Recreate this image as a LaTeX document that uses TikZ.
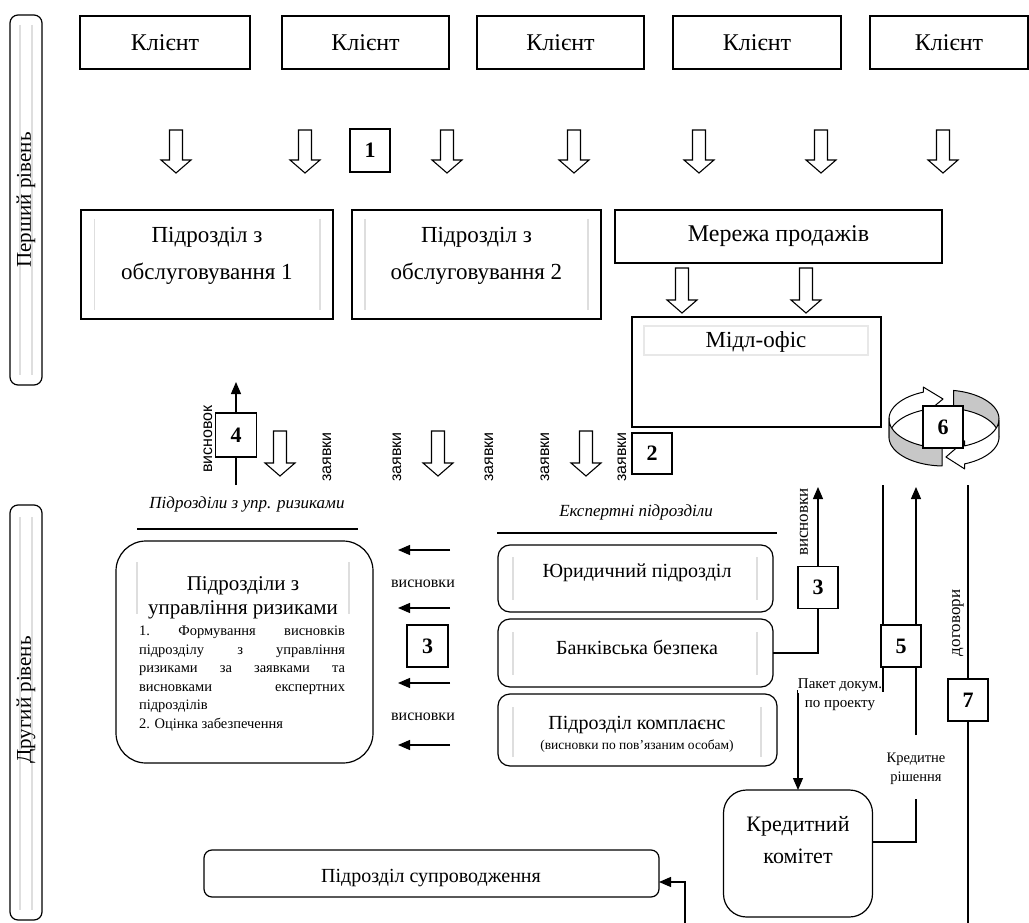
\documentclass[tikz,border=0pt]{standalone}
\usepackage{fontspec}
\setmainfont{Liberation Serif}
\newfontfamily\sansf{Liberation Sans}
\usetikzlibrary{arrows.meta}
\newcommand\fsz[2]{\fontsize{#1}{#2}\selectfont}
\tikzset{
 bx/.style={draw, line width=1.2pt, fill=white},
 rbx/.style={draw, line width=1.2pt, fill=white, rounded corners=#1},
 num/.style={draw, line width=1.2pt, fill=white, minimum width=40pt, minimum height=42pt, font=\bfseries\fsz{22}{26}},
 inl/.style={draw=black!13, line width=1.6pt},
 conn/.style={line width=1.2pt},
 arr/.style={line width=1.2pt, -{Triangle[length=12pt,width=10pt]}},
 pics/harrow/.style={code={\draw[line width=1.1pt, fill=white, line join=miter] (-6.5,0) -- (-6.5,#1-13) -- (-15,#1-13) -- (0,#1) -- (15,#1-13) -- (6.5,#1-13) -- (6.5,0) -- cycle;}},
 rl/.style={rotate=90, font=\sansf\fsz{16}{19}},
 rls/.style={rotate=90, font=\fsz{17}{20}},
 ring/.style={line width=1pt, line join=round},
}
\begin{document}
\begin{tikzpicture}[x=1pt,y=-1pt, every node/.style={inner sep=0pt, outer sep=0pt}]
\useasboundingbox (0,0) rectangle (1029,923);

% level bars
\node[rbx=8pt, minimum width=32pt, minimum height=370pt] (bar1) at (26,200) {};
\draw[inl] (20,25) -- (20,375); \draw[inl] (32,25) -- (32,375);
\node[rotate=90, font=\fsz{21}{25}] (bar1t) at (26,200) {Перший рівень};
\node[rbx=8pt, minimum width=32pt, minimum height=415pt] (bar2) at (26,712.5) {};
\draw[inl] (20,517) -- (20,910); \draw[inl] (32,517) -- (32,910);
\node[rotate=90, font=\fsz{21}{25}] (bar2t) at (26,700) {Другий рівень};

% clients
\tikzset{cl/.style={bx, minimum height=53pt, font=\fsz{24}{28}}}
\node[cl, minimum width=170pt] (cl1) at (165,42.5) {Клієнт};
\node[cl, minimum width=167pt] (cl2) at (365.5,42.5) {Клієнт};
\node[cl, minimum width=167pt] (cl3) at (560.5,42.5) {Клієнт};
\node[cl, minimum width=168pt] (cl4) at (757,42.5) {Клієнт};
\node[cl, minimum width=158pt] (cl5) at (949,42.5) {Клієнт};

% hollow arrows, first row
\foreach \xx in {176,305,447,574,699,821,943} \pic at (\xx,130) {harrow=43};
\node[num, minimum height=43pt] (n1) at (370,150.5) {1};

% service units
\node[bx, minimum width=252pt, minimum height=109pt] (pz1) at (207,264.5) {};
\draw[inl] (94.5,219) -- (94.5,310); \draw[inl] (320,219) -- (320,310);
\node[anchor=base] (pz1t) at (207,243) {\parbox[t]{240pt}{\centering\fsz{23}{37}Підрозділ з\\обслуговування 1}};
\node[bx, minimum width=249pt, minimum height=109pt] (pz2) at (476.5,264.5) {};
\draw[inl] (365,219) -- (365,310); \draw[inl] (588,219) -- (588,310);
\node[anchor=base] (pz2t) at (476.5,243) {\parbox[t]{240pt}{\centering\fsz{23}{37}Підрозділ з\\обслуговування 2}};

% sales network and middle office
\node[bx, minimum width=327pt, minimum height=53pt, font=\fsz{24}{28}] (mp) at (778.5,236.5) {Мережа продажів};
\pic at (682,268) {harrow=45};
\pic at (806,268) {harrow=45};
\node[bx, minimum width=249pt, minimum height=110pt] (mo) at (756.5,372) {};
\draw[draw=black!9, line width=1.4pt] (644,326) rectangle (868,355);
\node[font=\fsz{23}{27}] (mot) at (756,342) {Мідл-офіс};
\node[num, minimum height=41pt] (n2) at (652,453.5) {2};

% cycle arrow 6
\filldraw[ring, fill=white] plot[variable=\t, domain=182:112, samples=25] ({944+55*cos(\t)},{419-29*sin(\t)})
  -- ({944+55*cos(112)},{419-29*sin(112)-5}) -- ({944+55*cos(91)},{428-29*sin(91)})
  -- ({944+55*cos(112)},{437-29*sin(112)+5})
  -- plot[variable=\t, domain=112:182, samples=25] ({944+55*cos(\t)},{437-29*sin(\t)}) -- cycle;
\filldraw[ring, fill=black!22] plot[variable=\t, domain=80:-3, samples=25] ({944+55*cos(\t)},{419-29*sin(\t)})
  -- plot[variable=\t, domain=-3:80, samples=25] ({944+55*cos(\t)},{437-29*sin(\t)}) -- cycle;
\filldraw[ring, fill=black!22] plot[variable=\t, domain=178:268, samples=25] ({944+55*cos(\t)},{419-29*sin(\t)})
  -- plot[variable=\t, domain=268:178, samples=25] ({944+55*cos(\t)},{437-29*sin(\t)}) -- cycle;
\filldraw[ring, fill=white] plot[variable=\t, domain=358:292, samples=25] ({944+55*cos(\t)},{419-29*sin(\t)})
  -- ({944+55*cos(292)},{419-29*sin(292)-5}) -- ({944+55*cos(272)},{428-29*sin(272)})
  -- ({944+55*cos(292)},{437-29*sin(292)+5})
  -- plot[variable=\t, domain=292:358, samples=25] ({944+55*cos(\t)},{437-29*sin(\t)}) -- cycle;
\node[num] (n6) at (943,427) {6};

% box 4 with conclusion arrow
\coordinate (c4b) at (236,485);
\coordinate (c4t) at (236,382);
\node[num, minimum width=41pt, minimum height=44pt] (n4) at (236,435) {4};
\draw[conn] (c4b) -- (n4.south);
\draw[arr] (n4.north) -- (c4t);
\node[rl] (l4) at (208,439) {висновок};

% middle hollow arrows and labels
\foreach \xx in {280,438,586} \pic at (\xx,431) {harrow=45};
\node[rl] (z1) at (327,457) {заявки};
\node[rl] (z2) at (397,457) {заявки};
\node[rl] (z3) at (489,457) {заявки};
\node[rl] (z4) at (545,457) {заявки};
\node[rl] (z5) at (622,457) {заявки};

% group titles
\node[anchor=base, font=\itshape\fsz{17}{20}] (trisk) at (247,508) {Підрозділи з упр. ризиками};
\draw[line width=2.6pt] (137,529) -- (358,529);
\node[anchor=base, font=\itshape\fsz{17}{20}] (texp) at (636,516) {Експертні підрозділи};
\draw[line width=2.6pt] (497,533) -- (777,533);

% risk management box
\node[rbx=30pt, minimum width=257pt, minimum height=222pt] (risk) at (244.5,652) {};
\draw[inl] (137,562) -- (137,614); \draw[inl] (349,562) -- (349,614);
\node[anchor=base] (riskt) at (243,590) {\parbox[t]{230pt}{\centering\fsz{21}{24}Підрозділи з\\управління ризиками}};
\node[anchor=base west, font=\fsz{14.5}{18.6}] (riskb) at (139,635.5) {\vtop{\baselineskip=18.6pt\lineskiplimit=-20pt\lineskip=0pt
\hbox to 206pt{1.\hfil Формування\hfil висновків}
\hbox to 206pt{підрозділу\hfil з\hfil управління}
\hbox to 206pt{ризиками\hfil за\hfil заявками\hfil та}
\hbox to 206pt{висновками\hfil експертних}
\hbox to 206pt{підрозділів\hfil}
\hbox to 206pt{2. Оцінка забезпечення\hfil}}};

% arrows from experts to risk
\coordinate (a1s) at (450,550); \coordinate (a1e) at (398,550);
\coordinate (a2s) at (450,608); \coordinate (a2e) at (398,608);
\coordinate (a3s) at (450,683); \coordinate (a3e) at (398,683);
\coordinate (a4s) at (450,745); \coordinate (a4e) at (398,745);
\draw[arr] (a1s) -- (a1e);
\draw[arr] (a2s) -- (a2e);
\draw[arr] (a3s) -- (a3e);
\draw[arr] (a4s) -- (a4e);
\node[anchor=base, font=\fsz{16}{19}] (v1) at (423,587) {висновки};
\node[anchor=base, font=\fsz{16}{19}] (v2) at (423,720) {висновки};
\node[num, minimum width=41pt] (n3a) at (427.5,646) {3};

% expert units
\node[rbx=12pt, minimum width=275pt, minimum height=67pt] (jur) at (635.5,578.5) {};
\draw[inl] (513,557) -- (513,600); \draw[inl] (757,557) -- (757,600);
\node[font=\fsz{20}{24}] (jurt) at (637,573) {Юридичний підрозділ};
\node[rbx=12pt, minimum width=275pt, minimum height=68pt] (bank) at (635.5,653) {};
\draw[inl] (513,632) -- (513,675); \draw[inl] (757,632) -- (757,675);
\node[font=\fsz{20}{24}] (bankt) at (637,647) {Банківська безпека};
\node[rbx=12pt, minimum width=279pt, minimum height=72pt] (comp) at (637.5,730) {};
\draw[inl] (513,707) -- (513,757); \draw[inl] (761,707) -- (761,757);
\node[anchor=base] (compt) at (637,729) {\parbox[t]{270pt}{\centering\fsz{20}{24}Підрозділ комплаєнс\par\fsz{13.5}{20}(висновки по пов’язаним особам)}};

% box 3 (expert conclusions up)
\node[num] (n3b) at (818,587.5) {3};
\coordinate (c3t) at (818,487);
\draw[conn] (bank.east) -| (n3b.south);
\draw[arr] (n3b.north) -- (c3t);
\node[rls] (l3) at (804,522) {висновки};

% credit committee
\node[rbx=23pt, minimum width=149pt, minimum height=127pt] (kk) at (798,853.5) {};
\node[anchor=base] (kkt) at (798,831) {\parbox[t]{140pt}{\centering\fsz{22}{32}Кредитний\\комітет}};

% box 5 lines
\node[num] (n5) at (901,646) {5};
\coordinate (c5a) at (883,485);
\coordinate (c5c) at (883,691);
\draw[conn] (c5a) -- (c5a |- n5.north);
\draw[arr] (c5a |- n5.south) -- (c5c) -| (kk.north);
\node[anchor=base, fill=white, inner ysep=1.5pt, font=\fsz{15}{19}] (pak1) at (840,688) {Пакет докум.};
\node[anchor=base, font=\fsz{15}{19}] (pak2) at (840,707) {по проекту};
\coordinate (c5t) at (916,487);
\coordinate (c5d) at (916,735);
\coordinate (c5e) at (916,799);
\coordinate (c5g) at (916,842);
\draw[conn] (c5d) -- (c5d |- n5.south);
\draw[arr] (c5d |- n5.north) -- (c5t);
\draw[conn] (c5e) -- (c5g) -- (kk.east |- c5g);
\node[anchor=base] (kr) at (916,762) {\parbox[t]{80pt}{\centering\fsz{14.5}{19}Кредитне\\рішення}};

% box 7 contracts
\node[num] (n7) at (968,700) {7};
\coordinate (c7t) at (968,485);
\coordinate (c7b) at (968,923);
\draw[conn] (c7t) -- (n7.north);
\draw[conn] (n7.south) -- (c7b);
\node[rls] (l7) at (958,623) {договори};

% support unit
\node[rbx=8pt, minimum width=455pt, minimum height=47pt] (sup) at (431.5,873.5) {};
\node[anchor=base, font=\fsz{20}{24}] (supt) at (431,882) {Підрозділ супроводження};
\coordinate (c6b) at (685,923);
\coordinate (c6c) at (685,882);
\draw[arr] (c6b) -- (c6c) -- (sup.east |- c6c);
\end{tikzpicture}
\end{document}
